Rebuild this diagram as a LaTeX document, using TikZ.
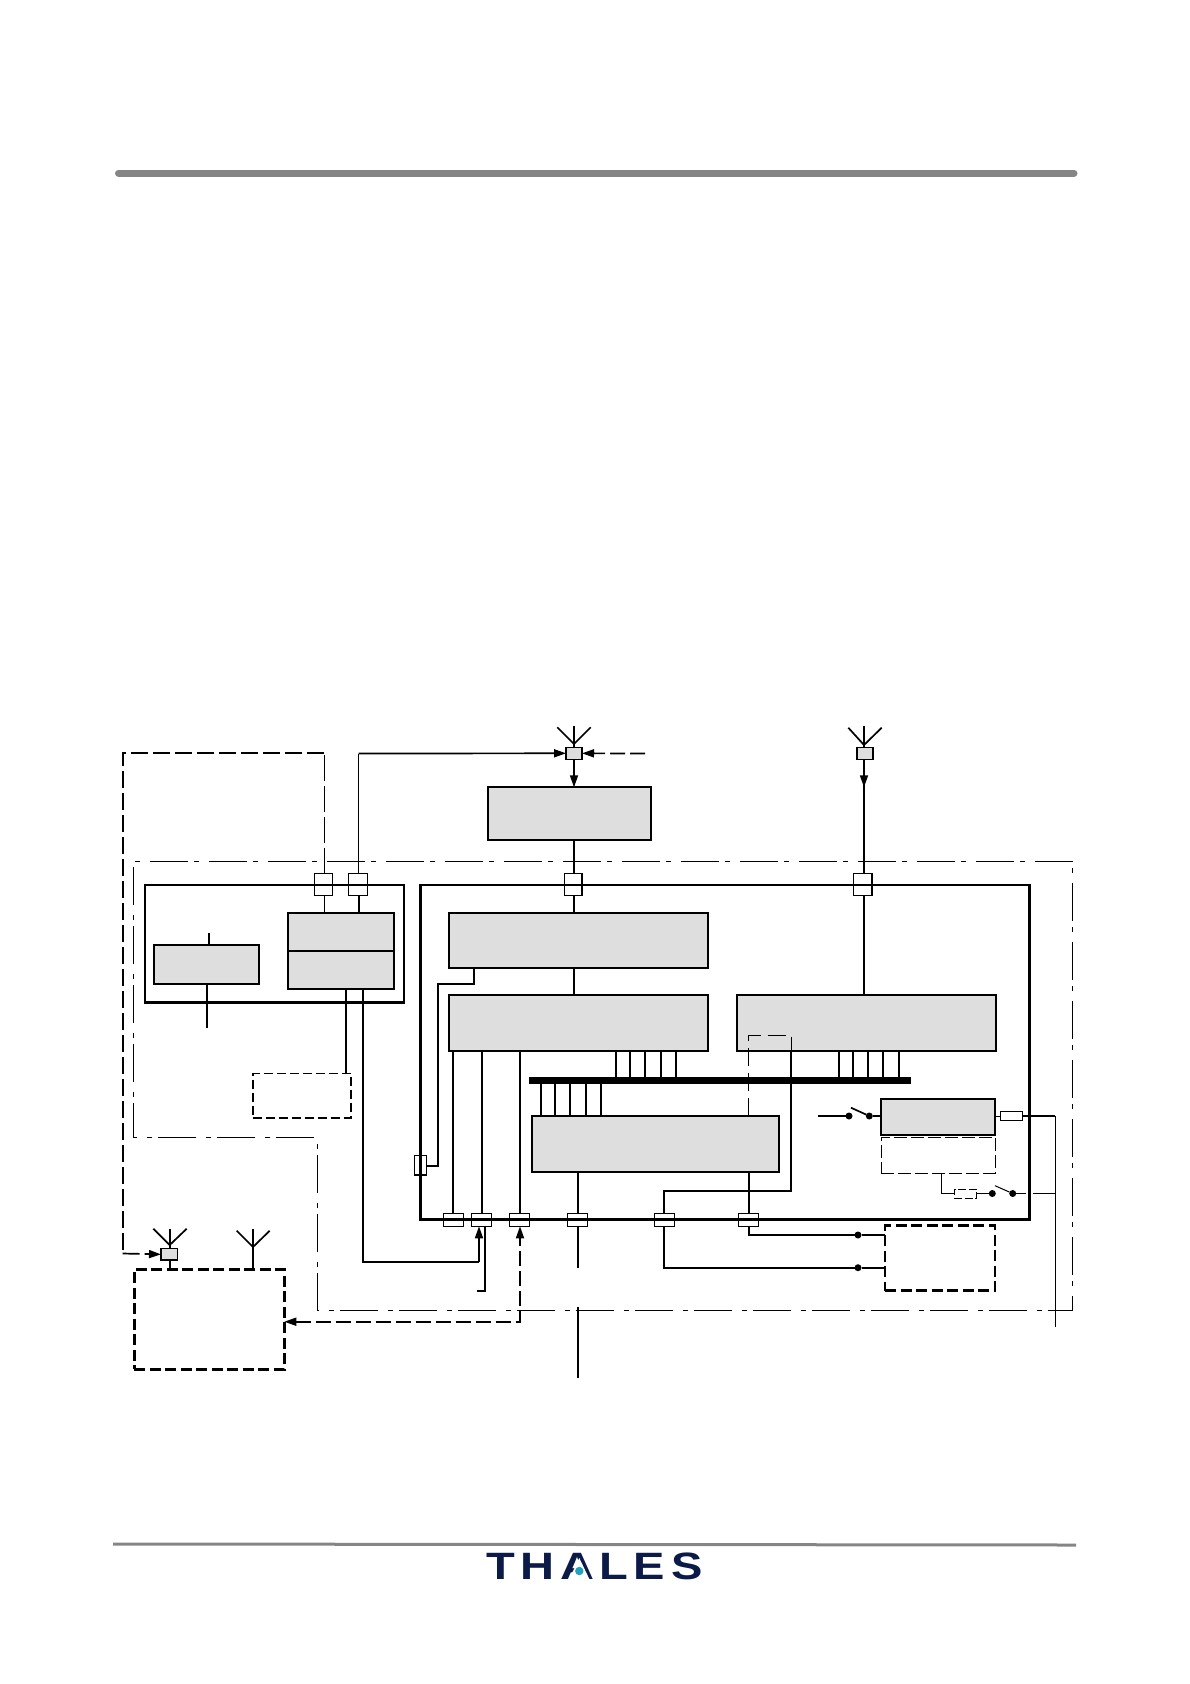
\documentclass[tikz,border=0pt]{standalone}
\usepackage{fontspec}
\usetikzlibrary{arrows.meta}
\newfontfamily\logofont[LetterSpace=12]{Liberation Sans}
\definecolor{blockgray}{HTML}{DEDEDE}
\definecolor{rulegray}{HTML}{858585}
\definecolor{logonavy}{HTML}{0B1A47}
\definecolor{logoteal}{HTML}{1FA3BF}
\newcommand\bx[6]{\node[#2,anchor=north west,minimum width={(#5-#3)*1pt},minimum height={(#6-#4)*1pt}] (#1) at (#3,#4) {};}
\newcommand\vlink[4][wire]{\draw[#1] (#3 -| #2,0) -- (#4 -| #2,0);}
\newcommand\dotat[3]{\node[dotnode] (#1) at (#2,#3) {};}
\tikzset{
  base/.style={inner sep=0pt,outer sep=0pt,rectangle},
  block/.style={base,draw=black,fill=blockgray,line width=1.7pt},
  thickbox/.style={base,draw=black,line width=2.8pt},
  conn/.style={base,draw=black,fill=white,line width=1.4pt},
  minisq/.style={base,draw=black,fill=blockgray,line width=1.4pt},
  wire/.style={draw=black,line width=1.7pt,line join=miter},
  thin wire/.style={draw=black,line width=1pt},
  dashbig/.style={base,draw=black,line width=2.9pt,dash pattern=on 11pt off 4.5pt},
  dashmid/.style={base,draw=black,line width=1.9pt,dash pattern=on 9pt off 4pt},
  dashthin/.style={base,draw=black,line width=1pt,dash pattern=on 13pt off 4pt},
  dashtiny/.style={base,draw=black,line width=1pt,dash pattern=on 8pt off 2.5pt},
  longdash/.style={draw=black,line width=1.7pt,dash pattern=on 17pt off 5pt},
  arrowdash/.style={draw=black,line width=1.7pt,dash pattern=on 15pt off 5pt},
  thindash/.style={draw=black,line width=.9pt,dash pattern=on 26pt off 5pt},
  dashdot/.style={draw=black,line width=.9pt,dash pattern=on 38pt off 6pt on 5pt off 10pt,dash phase=42.5pt},
  dotnode/.style={circle,fill=black,inner sep=0pt,outer sep=0pt,minimum size=7pt},
  head/.style={-{Triangle[length=12pt,width=8pt]}},
  bothheads/.style={{Triangle[length=12pt,width=8pt]}-{Triangle[length=12pt,width=8pt]}},
  rulestyle/.style={draw=rulegray,line cap=round},
}
\begin{document}
\begin{tikzpicture}[x=1pt,y=-1pt]
\useasboundingbox (0,0) rectangle (1190,1684);
% page rules
\coordinate (rta) at (118.5,173); \coordinate (rtb) at (1074,173);
\coordinate (rba) at (113,1544); \coordinate (rbb) at (1076,1545);
\draw[rulestyle,line width=7pt] (rta) -- (rtb);
\draw[rulestyle,line width=3pt,line cap=butt] (rba) -- (rbb);
% system outline
\coordinate (o1) at (133.5,861.3); \coordinate (o2) at (1072,861.3); \coordinate (o3) at (1072,1310);
\coordinate (o4) at (317.7,1310); \coordinate (o5) at (317.7,1137.3); \coordinate (o6) at (133.5,1137.3);
\draw[dashdot] (o1) -- (o2) -- (o3) -- (o4) -- (o5) -- (o6) -- cycle;
% blocks
\bx{rx}{block}{488}{787.3}{651}{840}
\bx{ltop}{block}{288}{912.7}{394}{950.7}
\bx{lbot}{block}{288}{950.7}{394}{989}
\bx{lleft}{block}{153.7}{944.7}{259}{984}
\bx{blA}{block}{449}{912.7}{708.3}{968}
\bx{blB}{block}{449}{994.7}{708.3}{1051}
\bx{blD}{block}{737}{994.7}{996.3}{1051}
\bx{blC}{block}{531.7}{1116}{779.3}{1172}
\bx{blF}{block}{881}{1099}{995}{1135}
\bx{blG}{dashthin}{881.3}{1137}{995}{1173.3}
\bx{dashL}{dashmid}{252.7}{1073.5}{351}{1117.7}
\bx{dashE}{dashbig}{885}{1225.7}{995}{1290.7}
\bx{dashX}{dashbig}{134.3}{1269.3}{284.3}{1369.3}
\node[base,fill=black,anchor=north west,minimum width=381.7pt,minimum height=7pt] (bus) at (529,1077) {};
% connectors (under the heavy frames)
\bx{cA}{conn}{314.7}{873.7}{332.3}{895.3}
\bx{cB}{conn}{348.7}{873.7}{367.3}{895.3}
\bx{cC}{conn}{564.7}{873.7}{582}{895.3}
\bx{cD}{conn}{853.7}{873.7}{872}{895.3}
\bx{cL}{conn}{414.7}{1155.3}{426.3}{1175}
\bx{c1}{conn}{443.3}{1213.3}{463.3}{1226.3}
\bx{c2}{conn}{471.7}{1213.3}{491.7}{1226.3}
\bx{c3}{conn}{509.7}{1213.3}{529.3}{1226.3}
\bx{c4}{conn}{567.7}{1213.3}{587.7}{1226.3}
\bx{c5}{conn}{654.7}{1213.3}{674.3}{1226.3}
\bx{c6}{conn}{738.7}{1213.3}{758.3}{1226.3}
\bx{fuse}{conn}{1000.3}{1111.3}{1022.7}{1120.3}
\bx{fuseD}{dashtiny}{954.3}{1189}{976.7}{1198.3}
% heavy frames
\bx{frameL}{thickbox}{145}{885}{404}{1002.3}
\bx{frameR}{thickbox}{420.5}{885}{1029.5}{1219.3}
% antenna squares
\bx{sqT}{minisq}{566}{747.3}{582}{759.3}
\bx{sqR}{minisq}{857}{747.3}{873}{759.3}
\bx{sqX}{minisq}{161}{1248.7}{177.3}{1260}
% antennas
\coordinate (aT) at (574,726); \coordinate (jT) at (574,744);
\draw[wire] (aT) -- (sqT.north -| aT);
\draw[wire] (557.3,727.3) -- (jT) -- (590.7,727.3);
\coordinate (aR) at (864,726); \coordinate (jR) at (864,745);
\draw[wire] (aR) -- (sqR.north -| aR);
\draw[wire] (848.3,727.7) -- (jR) -- (881.7,727.7);
\coordinate (aX) at (169.7,1229); \coordinate (jX) at (169.7,1245);
\draw[wire] (aX) -- (sqX.north -| aX);
\draw[wire] (153.3,1228.7) -- (jX) -- (186.7,1228.7);
\coordinate (aY) at (253,1229); \coordinate (jY) at (253,1247);
\draw[wire] (aY) -- (dashX.north -| aY);
\draw[wire] (236.7,1230.7) -- (jY) -- (269.7,1230.7);
\vlink{169.7}{sqX.south}{dashX.north}
% top feeds
\coordinate (feedB) at (358.5,753.5);
\draw[wire] (cB.north -| feedB) -- (feedB);
\draw[wire,head] (feedB) -- (sqT.west);
\coordinate (feedR) at (645,753.5);
\draw[arrowdash,head] (feedR) -- (sqT.east);
\draw[wire,head] (sqT.south) -- (rx.north -| sqT.south);
\vlink{574}{rx.south}{cC.north}
\vlink{574}{cC.south}{blA.north}
\vlink{574}{blA.south}{blB.north}
\draw[wire,head] (sqR.south -| 864,0) -- (864,787.3);
\vlink{864}{sqR.south}{cD.north}
\vlink{864}{cD.south}{blD.north}
% left group
\vlink[wire,line width=1.4pt]{324.3}{cA.south}{ltop.north}
\vlink{359}{cB.south}{ltop.north}
\coordinate (tickU) at (209,933);
\draw[wire] (tickU) -- (lleft.north -| tickU);
\coordinate (tickD) at (207,1028);
\draw[wire] (lleft.south -| tickD) -- (tickD);
\vlink{346}{lbot.south}{dashL.north}
\coordinate (rr1) at (362.7,1261.7); \coordinate (rr2) at (479,1261.7);
\draw[wire] (lbot.south -| rr1) -- (rr1) -- (rr2);
\draw[wire,head] (rr2) -- (c2.south -| rr2);
% long dashed link
\coordinate (ld1) at (324.3,753); \coordinate (ld2) at (122.7,753); \coordinate (ld3) at (122.7,1253.5);
\draw[thindash] (cA.north -| ld1) -- (ld1);
\draw[longdash] (ld1) -- (ld2) -- (ld3);
\draw[longdash,head] (ld3) -- (sqX.west);
% block A to left connector
\coordinate (al1) at (473.7,983.7); \coordinate (al2) at (437.7,983.7); \coordinate (al3) at (437.7,1165.7);
\draw[wire] (blA.south -| al1) -- (al1) -- (al2) -- (al3) -- (cL.east |- al3);
% block B down
\vlink{452.7}{blB.south}{c1.north}
\vlink{481.7}{blB.south}{c2.north}
\vlink{519.7}{blB.south}{c3.north}
% bus ticks
\foreach \x in {616,630,645,660.7,675.7} {\vlink{\x}{blB.south}{bus.north}}
\foreach \x in {541,555,570,586,600.7} {\vlink{\x}{bus.south}{blC.north}}
\foreach \x in {839,852.7,868,883,899} {\vlink{\x}{blD.south}{bus.north}}
% c2 tail
\coordinate (t1) at (485,1291); \coordinate (t2) at (477.3,1291);
\draw[wire] (c2.south -| t1) -- (t1) -- (t2);
% c3 dashed
\coordinate (d3) at (520,1321.7);
\draw[arrowdash,bothheads] (dashX.east |- d3) -- (d3) -- (c3.south -| d3);
% c4
\vlink{578}{blC.south}{c4.north}
\coordinate (c4end) at (578,1268);
\draw[wire] (c4.south -| c4end) -- (c4end);
\coordinate (lo1) at (578,1307.3); \coordinate (lo2) at (578,1377.7);
\draw[wire] (lo1) -- (lo2);
% C / D dashed link and return
\coordinate (dk1) at (748.3,1035.3); \coordinate (dk2) at (791.3,1035.3);
\draw[thin wire,dash pattern=on 18pt off 7pt] (blC.north -| dk1) -- (dk1) -- (dk2) -- (blD.south -| dk2);
\coordinate (rk1) at (791.3,1191); \coordinate (rk2) at (664,1191);
\draw[wire] (blD.south -| rk1) -- (rk1) -- (rk2) -- (c5.north -| rk2);
\vlink{748.7}{blC.south}{c6.north}
% to dashed box E
\dotat{dot1}{858}{1235}
\dotat{dot2}{858}{1267.7}
\coordinate (e1) at (748.7,1235);
\draw[wire] (c6.south -| e1) -- (e1) -- (dot1) -- (dot1 -| dashE.west);
\coordinate (e2) at (664,1267.7);
\draw[wire] (c5.south -| e2) -- (e2) -- (dot2) -- (dot2 -| dashE.west);
% switch 1
\dotat{sw1a}{849}{1116}
\dotat{sw1b}{869.3}{1116}
\coordinate (sw1in) at (818,1116); \coordinate (sw1bl) at (851,1107.7);
\draw[wire] (sw1in) -- (sw1a);
\draw[wire] (sw1bl) -- (sw1b);
\draw[wire] (sw1b) -- (blF.west |- sw1b);
% fused supply
\coordinate (f1) at (1055.3,1116); \coordinate (f2) at (1055.3,1326.7);
\draw[thin wire] (blF.east |- f1) -- (fuse.west |- f1);
\draw[wire] (fuse.east |- f1) -- (f1);
\draw[thin wire,line width=1.2pt] (f1) -- (f2);
% lower switch
\dotat{sw2a}{992.3}{1193.5}
\dotat{sw2b}{1012.7}{1193.5}
\coordinate (g1) at (941.7,1193.5); \coordinate (sw2bl) at (995,1185.7); \coordinate (sw2out) at (1055.3,1193.5);
\draw[thin wire] (blG.south -| g1) -- (g1) -- (fuseD.west |- g1);
\draw[thin wire] (fuseD.east |- g1) -- (sw2a);
\draw[thin wire] (sw2bl) -- (sw2b);
\draw[thin wire,dash pattern=on 10pt off 7pt on 30pt off 0pt] (sw2b) -- (sw2out);
% logo
\node[inner sep=0pt,anchor=center,text=logonavy] (logo) at (594.2,1566) {\resizebox{216.3pt}{26.6pt}{\logofont\bfseries THALES}};
\coordinate (lgA) at (579.3,1558); \coordinate (lgB) at (568.5,1580.5); \coordinate (lgC) at (590,1580.5); \coordinate (lgD) at (579.3,1571);
\fill[white] (lgA) -- (lgB) -- (lgC) -- cycle;
\fill[logoteal] (lgD) circle (4.2pt);
\end{tikzpicture}
\end{document}
